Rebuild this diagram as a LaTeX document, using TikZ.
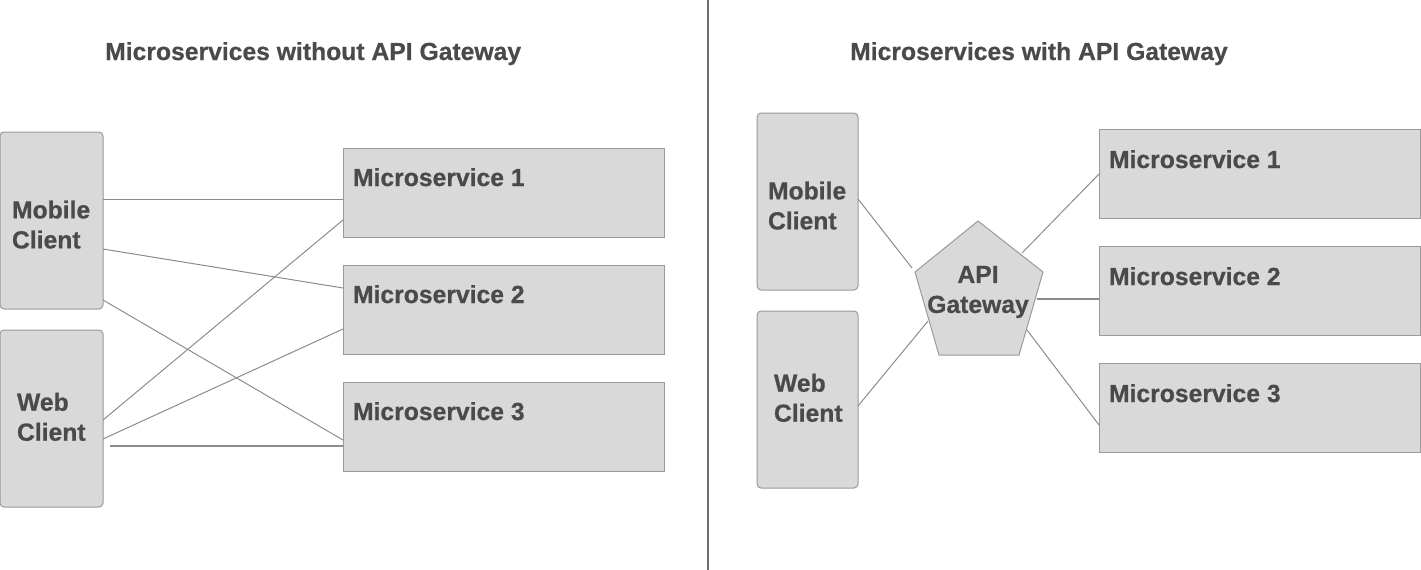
\documentclass[tikz,border=0pt]{standalone}
\usepackage{fontspec}
\setmainfont{Liberation Sans}[BoldFeatures={FakeBold=0.6}]
\usetikzlibrary{calc}
\definecolor{boxfill}{HTML}{D9D9D9}
\definecolor{boxline}{HTML}{9A9A9A}
\definecolor{wire}{HTML}{8C8C8C}
\definecolor{ink}{HTML}{4A4A4A}
\definecolor{divider}{HTML}{6E6E6E}
\tikzset{
  box/.style={draw=boxline, fill=boxfill, line width=1pt, inner sep=0pt, outer sep=0pt, anchor=north west},
  client/.style={box, rounded corners=4pt, minimum width=103, minimum height=177},
  msbox/.style={box, minimum width=321, minimum height=89},
  lbl/.style={font=\bfseries\fontsize{24.7}{30}\selectfont, text=ink, inner sep=0pt, outer sep=0pt, align=left},
  title/.style={font=\bfseries\fontsize{24.7}{30}\selectfont, text=ink, inner sep=0pt, anchor=base west},
  wireline/.style={draw=wire, line width=1pt},
}
\begin{document}
\begin{tikzpicture}[x=1pt,y=-1pt]
\useasboundingbox (0,0) rectangle (1421,570);

% divider
\draw[divider, line width=1.5pt] (708,0) -- (708,570);

% ---------------- left panel ----------------
\node[title] (tL) at (105,60) {Microservices without API Gateway};

\node[client] (mcL) at (0,132) {};
\node[client] (wcL) at (0,330) {};
\node[lbl, anchor=north west] (mcLt) at (12,200.5) {Mobile\\Client};
\node[lbl, anchor=north west] (wcLt) at (17,392.8) {Web\\Client};

\node[msbox] (ms1L) at (343,148) {};
\node[msbox] (ms2L) at (343,265) {};
\node[msbox] (ms3L) at (343,382) {};
\node[lbl, anchor=base west] (ms1Lt) at ($(ms1L.north west)+(10,38)$) {Microservice 1};
\node[lbl, anchor=base west] (ms2Lt) at ($(ms2L.north west)+(10,38)$) {Microservice 2};
\node[lbl, anchor=base west] (ms3Lt) at ($(ms3L.north west)+(10,38)$) {Microservice 3};

\draw[wireline] (mcL.east |- 0,199) -- (ms1L.west |- 0,199);
\draw[wireline] (mcL.east |- 0,249) -- (ms2L.west |- 0,288);
\draw[wireline] (mcL.east |- 0,300) -- (ms3L.west |- 0,440);
\draw[wireline] (wcL.east |- 0,420) -- (ms1L.west |- 0,220);
\draw[wireline] (wcL.east |- 0,439) -- (ms2L.west |- 0,329);
\draw[wireline, line width=1.4pt] ($(wcL.east |- 0,446)+(7,0)$) -- (ms3L.west |- 0,446);

% ---------------- right panel ----------------
\node[title] (tR) at (850,60) {Microservices with API Gateway};

\node[client, minimum width=101] (mcR) at (757,113) {};
\node[client, minimum width=101] (wcR) at (757,311) {};
\node[lbl, anchor=north west] (mcRt) at (768,181.5) {Mobile\\Client};
\node[lbl, anchor=north west] (wcRt) at (774,373.8) {Web\\Client};

\node[msbox] (ms1R) at (1099,129) {};
\node[msbox] (ms2R) at (1099,246) {};
\node[msbox] (ms3R) at (1099,363) {};
\node[lbl, anchor=base west] (ms1Rt) at ($(ms1R.north west)+(10,39)$) {Microservice 1};
\node[lbl, anchor=base west] (ms2Rt) at ($(ms2R.north west)+(10,39)$) {Microservice 2};
\node[lbl, anchor=base west] (ms3Rt) at ($(ms3R.north west)+(10,39)$) {Microservice 3};

% gateway pentagon
\coordinate (p1) at (978,221);
\coordinate (p2) at (1043,272);
\coordinate (p3) at (1019,355);
\coordinate (p4) at (939,355);
\coordinate (p5) at (915,272);
\draw[draw=boxline, fill=boxfill, line width=1pt, line join=round] (p1) -- (p2) -- (p3) -- (p4) -- (p5) -- cycle;
\node[lbl, align=center, anchor=center] (gw) at (978,292) {API\\Gateway};

\coordinate (gwA) at (912,268);
\coordinate (gwB) at (928,321);
\coordinate (gwC) at (1022,253);
\coordinate (gwD) at (1037,299);
\coordinate (gwE) at (1027,330);

\draw[wireline] (mcR.east |- 0,199) -- (gwA);
\draw[wireline] (wcR.east |- 0,406) -- (gwB);
\draw[wireline] (gwC) -- (ms1R.west |- 0,174);
\draw[wireline, line width=1.4pt] (gwD) -- (ms2R.west |- 0,299);
\draw[wireline] (gwE) -- (ms3R.west |- 0,425);
\end{tikzpicture}
\end{document}
